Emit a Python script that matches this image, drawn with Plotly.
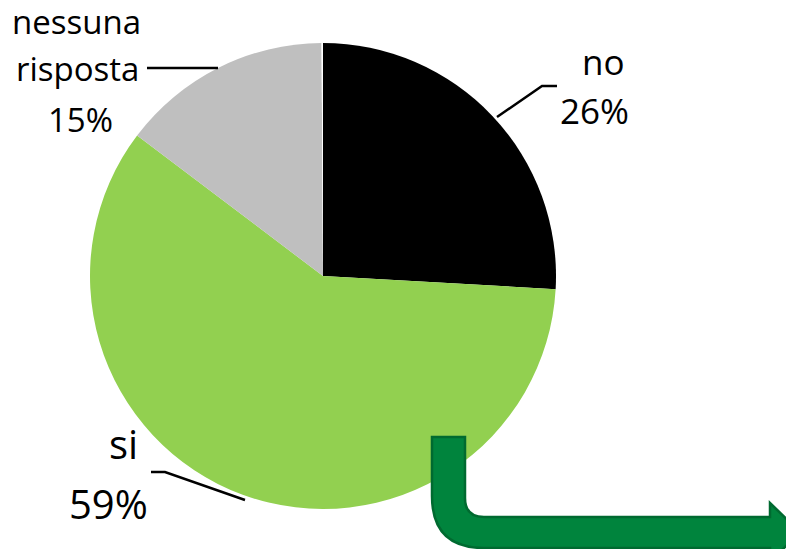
import plotly.graph_objects as go

OFF = 8  # page body margin of the browser
W, H = 794 - OFF, 557 - 2 * OFF

categories = ["no", "si", "nessuna risposta", ""]
values = [25.9, 59.4, 14.6, 0.1]
colors = ["#000000", "#92D050", "#BFBFBF", "#FFFFFF"]

# label lines (text) per category
label_lines = [["no"], ["si"], ["nessuna", "risposta"], []]


def px(x):
    return (x - OFF) / W


def py(y):
    return 1 - (y - OFF) / H


cx, cy, r = 323, 276, 233

fig = go.Figure()
fig.add_trace(go.Pie(
    labels=categories,
    values=values,
    marker=dict(colors=colors, line=dict(width=0)),
    sort=False,
    direction="clockwise",
    rotation=0,
    textinfo="none",
    hoverinfo="label+percent",
    showlegend=False,
    domain=dict(x=[px(cx - r), px(cx + r)], y=[py(cy + r), py(cy - r)]),
))

total = sum(values)
pct = [f"{round(v / total * 100)}%" for v in values]

font = "Open Sans"
ann = []
layout_pos = {
    0: ([(603, 61)], (594, 111), 35),
    1: ([(124, 443)], (108, 504), 40),
    2: ([(76, 22), (77, 69)], (80, 120), 33),
}
for i, (lines, pct_pos, size) in layout_pos.items():
    for txt, (x, y) in zip(label_lines[i], lines):
        ann.append(dict(text=txt, x=px(x), y=py(y), xref="paper", yref="paper",
                        xanchor="center", yanchor="middle", showarrow=False,
                        font=dict(family=font, size=size, color="#000000")))
    ann.append(dict(text=pct[i], x=px(pct_pos[0]), y=py(pct_pos[1]), xref="paper", yref="paper",
                    xanchor="center", yanchor="middle", showarrow=False,
                    font=dict(family=font, size=size, color="#000000")))

shapes = []


def polyline(pts):
    d = "M " + " L ".join(f"{px(x):.5f},{py(y):.5f}" for x, y in pts)
    return dict(type="path", path=d, xref="paper", yref="paper",
                line=dict(color="#000000", width=2.5))


# leader lines
shapes.append(polyline([(497, 117), (542, 86), (557, 86)]))
shapes.append(polyline([(147, 68), (218, 68)]))
shapes.append(polyline([(151, 472), (165, 472), (245, 500)]))

# decorative bent arrow
P = lambda x, y: f"{px(x):.5f},{py(y):.5f}"
arrow = (
    "M " + P(432, 437) + " L " + P(465, 437) + " L " + P(465, 498)
    + " Q " + P(465, 517) + " " + P(484, 517)
    + " L " + P(770, 517) + " L " + P(770, 503) + " L " + P(800, 532)
    + " L " + P(770, 562) + " L " + P(770, 548) + " L " + P(484, 548)
    + " Q " + P(432, 548) + " " + P(432, 496) + " Z"
)
shapes.append(dict(type="path", path=arrow, xref="paper", yref="paper",
                   fillcolor="#00843D", line=dict(color="#006A30", width=2.5)))

fig.update_layout(
    width=W, height=H,
    margin=dict(l=0, r=0, t=0, b=0),
    paper_bgcolor="#FFFFFF", plot_bgcolor="#FFFFFF",
    annotations=ann, shapes=shapes,
)

fig.write_html("out.html")
